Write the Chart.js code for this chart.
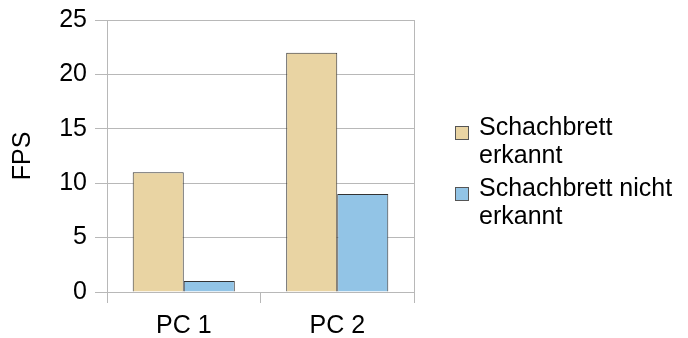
<!DOCTYPE html>
<html>
<head>
<meta charset="utf-8">
<script src="https://cdn.jsdelivr.net/npm/chart.js@4/dist/chart.umd.min.js"></script>
<style>
  html, body { margin: 0; padding: 0; background: #fff; }
  #wrap { width: 688px; height: 338px; position: relative; }
</style>
</head>
<body>
<div id="wrap"><canvas id="c" width="688" height="338"></canvas></div>
<script>
const categories = ['PC 1', 'PC 2'];
const seriesNames = [['Schachbrett', 'erkannt'], ['Schachbrett nicht', 'erkannt']];
const detected = [11, 22];
const notDetected = [1, 9];
const yTicks = [0, 5, 10, 15, 20, 25];

const FONT = "'Liberation Sans', Arial, sans-serif";
const FS = 25;
const GRID = '#b8b8b8';
const fills = ['#e9d4a3', '#92c4e6'];

// Legend drawn at the right of the plot, with wrapped labels
const sideLegend = {
  id: 'sideLegend',
  afterDraw(chart) {
    const ctx = chart.ctx;
    ctx.save();
    ctx.font = FS + 'px ' + FONT;
    ctx.textBaseline = 'alphabetic';
    const x0 = 455, lineH = 28;
    let y = 126;
    chart.data.datasets.forEach((ds) => {
      ctx.fillStyle = ds.backgroundColor;
      ctx.fillRect(x0, y, 13, 13);
      ctx.strokeStyle = '#555';
      ctx.lineWidth = 1;
      ctx.strokeRect(x0 + 0.5, y + 0.5, 13, 13);
      ctx.fillStyle = '#000';
      ds.legendLines.forEach((t, k) => ctx.fillText(t, 479, y + 9 + k * lineH));
      y += 61;
    });
    ctx.restore();
  }
};

new Chart(document.getElementById('c'), {
  type: 'bar',
  data: {
    labels: categories,
    datasets: [
      { label: seriesNames[0].join(' '), legendLines: seriesNames[0], data: detected,
        backgroundColor: fills[0], borderColor: '#333', borderWidth: 1 },
      { label: seriesNames[1].join(' '), legendLines: seriesNames[1], data: notDetected,
        backgroundColor: fills[1], borderColor: '#333', borderWidth: 1 }
    ]
  },
  options: {
    responsive: false,
    animation: false,
    events: [],
    layout: { padding: { top: 20, right: 274, left: 0, bottom: 0 } },
    plugins: { legend: { display: false }, tooltip: { enabled: false } },
    datasets: { bar: { categoryPercentage: 0.665, barPercentage: 1 } },
    scales: {
      x: {
        offset: true,
        afterFit(s) { s.height = 46; s.paddingLeft = 0; s.paddingRight = 0; },
        grid: { offset: true, drawOnChartArea: false, color: GRID, tickLength: 11 },
        border: { color: GRID },
        ticks: { color: '#000', font: { family: FONT, size: FS, lineHeight: 1 }, padding: 11 }
      },
      y: {
        min: 0, max: 25,
        afterBuildTicks(scale) { scale.ticks = yTicks.map(v => ({ value: v })); },
        afterFit(s) { s.width = 107; s.paddingTop = 0; s.paddingBottom = 0; },
        grid: { color: GRID, tickLength: 12 },
        border: { color: GRID },
        ticks: { color: '#000', font: { family: FONT, size: FS }, padding: 8 },
        title: { display: true, text: 'FPS', color: '#000', font: { family: FONT, size: FS }, padding: { top: 8, bottom: 10 } }
      },
      y2: {
        position: 'right',
        min: 0, max: 25,
        afterFit(s) { s.width = 0; s.paddingTop = 0; s.paddingBottom = 0; },
        grid: { display: false },
        ticks: { display: false },
        border: { color: GRID }
      }
    }
  },
  plugins: [sideLegend]
});
</script>
</body>
</html>
